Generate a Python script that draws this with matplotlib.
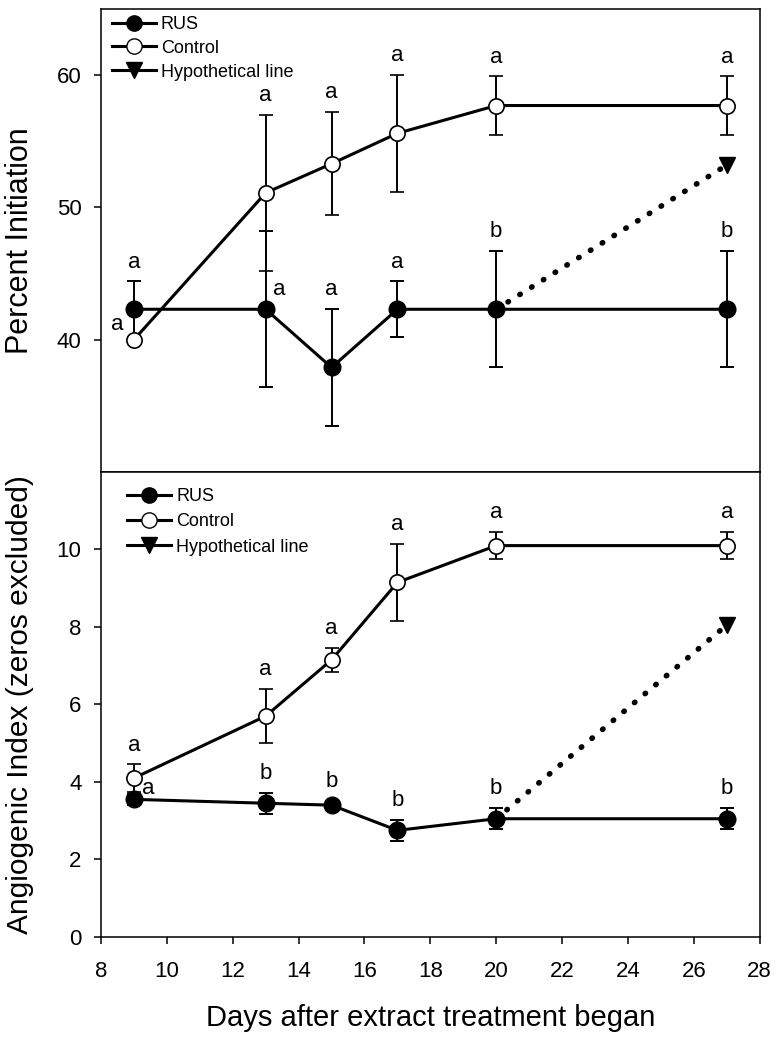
import matplotlib
matplotlib.use("Agg")
import matplotlib.pyplot as plt
from matplotlib.lines import Line2D
import numpy as np

plt.rcParams['font.family'] = ['Liberation Sans', 'DejaVu Sans']

# days after extract treatment began
days = [9, 13, 15, 17, 20, 27]

# top panel: percent initiation
init_rus = [42.3, 42.3, 37.9, 42.3, 42.3, 42.3]
init_rus_err = [2.1, 5.9, 4.4, 2.1, 4.4, 4.4]
init_ctrl = [40.0, 51.1, 53.3, 55.6, 57.7, 57.7]
init_ctrl_err = [0.0, 5.9, 3.9, 4.4, 2.2, 2.2]
init_rus_letters = ['a', 'a', 'a', 'a', 'b', 'b']
init_ctrl_letters = ['a', 'a', 'a', 'a', 'a', 'a']

# bottom panel: angiogenic index (zeros excluded)
ai_rus = [3.55, 3.45, 3.4, 2.75, 3.05, 3.05]
ai_rus_err = [0.15, 0.27, 0.1, 0.27, 0.27, 0.27]
ai_ctrl = [4.1, 5.7, 7.15, 9.15, 10.1, 10.1]
ai_ctrl_err = [0.35, 0.7, 0.3, 1.0, 0.35, 0.35]
ai_rus_letters = ['a', 'b', 'b', 'b', 'b', 'b']
ai_ctrl_letters = ['a', 'a', 'a', 'a', 'a', 'a']

# hypothetical line
hyp_days = [20, 27]
init_hyp = [42.3, 53.2]
ai_hyp = [3.05, 8.05]

fig = plt.figure(figsize=(7.8, 10.41), dpi=100)
ax1 = fig.add_axes([0.1295, 0.5466, 0.8445, 0.4448])
ax2 = fig.add_axes([0.1295, 0.1000, 0.8445, 0.4466], sharex=ax1)


def draw_panel(ax, rus, rus_err, ctrl, ctrl_err, hyp, rus_let, ctrl_let, special):
    ax.plot(hyp_days, hyp, color='black', lw=4, linestyle=(0, (0.1, 2.4)),
            dash_capstyle='round', zorder=2)
    ax.plot(hyp_days[-1:], hyp[-1:], 'v', color='black', ms=11, zorder=3)
    ax.errorbar(days, rus, yerr=rus_err, color='black', lw=2.2, marker='o', ms=12,
                mfc='black', mec='black', ecolor='black', elinewidth=1.4,
                capsize=5, capthick=1.4, zorder=3)
    ax.errorbar(days, ctrl, yerr=ctrl_err, color='black', lw=2.2, marker='o', ms=11,
                mfc='white', mec='black', mew=1.2, ecolor='black', elinewidth=1.4,
                capsize=5, capthick=1.4, zorder=4)
    for series, err, lets, key in [(rus, rus_err, rus_let, 'r'), (ctrl, ctrl_err, ctrl_let, 'c')]:
        for i, (d, v, e, t) in enumerate(zip(days, series, err, lets)):
            if (key, i) in special:
                dx, dy = special[(key, i)]
                ax.annotate(t, (d, v), xytext=(dx, dy), textcoords='offset points',
                            ha='center', va='center', fontsize=16)
            else:
                ax.annotate(t, (d, v + e), xytext=(0, 10), textcoords='offset points',
                            ha='center', va='baseline', fontsize=16)
    for s in ax.spines.values():
        s.set_linewidth(1.1)
    ax.tick_params(axis='both', direction='out', length=5, width=1.1, labelsize=16)
    ax.tick_params(axis='y', pad=9)
    ax.tick_params(axis='x', pad=12)


draw_panel(ax1, init_rus, init_rus_err, init_ctrl, init_ctrl_err, init_hyp,
           init_rus_letters, init_ctrl_letters,
           {('c', 0): (-12, 11), ('r', 1): (10, 14)})
draw_panel(ax2, ai_rus, ai_rus_err, ai_ctrl, ai_ctrl_err, ai_hyp,
           ai_rus_letters, ai_ctrl_letters,
           {('r', 0): (10, 8)})

ax1.set_ylim(30, 65)
ax1.set_yticks([40, 50, 60])
ax1.tick_params(axis='x', bottom=False, labelbottom=False)
ax2.set_ylim(0, 12)
ax2.set_yticks([0, 2, 4, 6, 8, 10])
ax2.set_xlim(8, 28)
ax2.set_xticks(np.arange(8, 29, 2))

ax1.set_ylabel('Percent Initiation', fontsize=22, va='center')
ax2.set_ylabel('Angiogenic Index (zeros excluded)', fontsize=21.5, va='center')
ax1.yaxis.set_label_coords(-0.123, 0.5)
ax2.yaxis.set_label_coords(-0.123, 0.5)
ax2.set_xlabel('Days after extract treatment began', fontsize=21, labelpad=16)

handles = [
    Line2D([], [], color='black', lw=2.2, marker='o', ms=11, mfc='black'),
    Line2D([], [], color='black', lw=2.2, marker='o', ms=11, mfc='white'),
    Line2D([], [], color='black', lw=2.2, marker='v', ms=11, mfc='black'),
]
labels = ['RUS', 'Control', 'Hypothetical line']
ax1.legend(handles, labels, loc='upper left', bbox_to_anchor=(0.017, 0.985),
           frameon=False, fontsize=13, handlelength=2.4, handletextpad=0.3,
           labelspacing=0.38, borderpad=0, borderaxespad=0)
ax2.legend(handles, labels, loc='upper left', bbox_to_anchor=(0.04, 0.965),
           frameon=False, fontsize=13, handlelength=2.4, handletextpad=0.3,
           labelspacing=0.45, borderpad=0, borderaxespad=0)

fig.savefig('out.png', dpi=100)
